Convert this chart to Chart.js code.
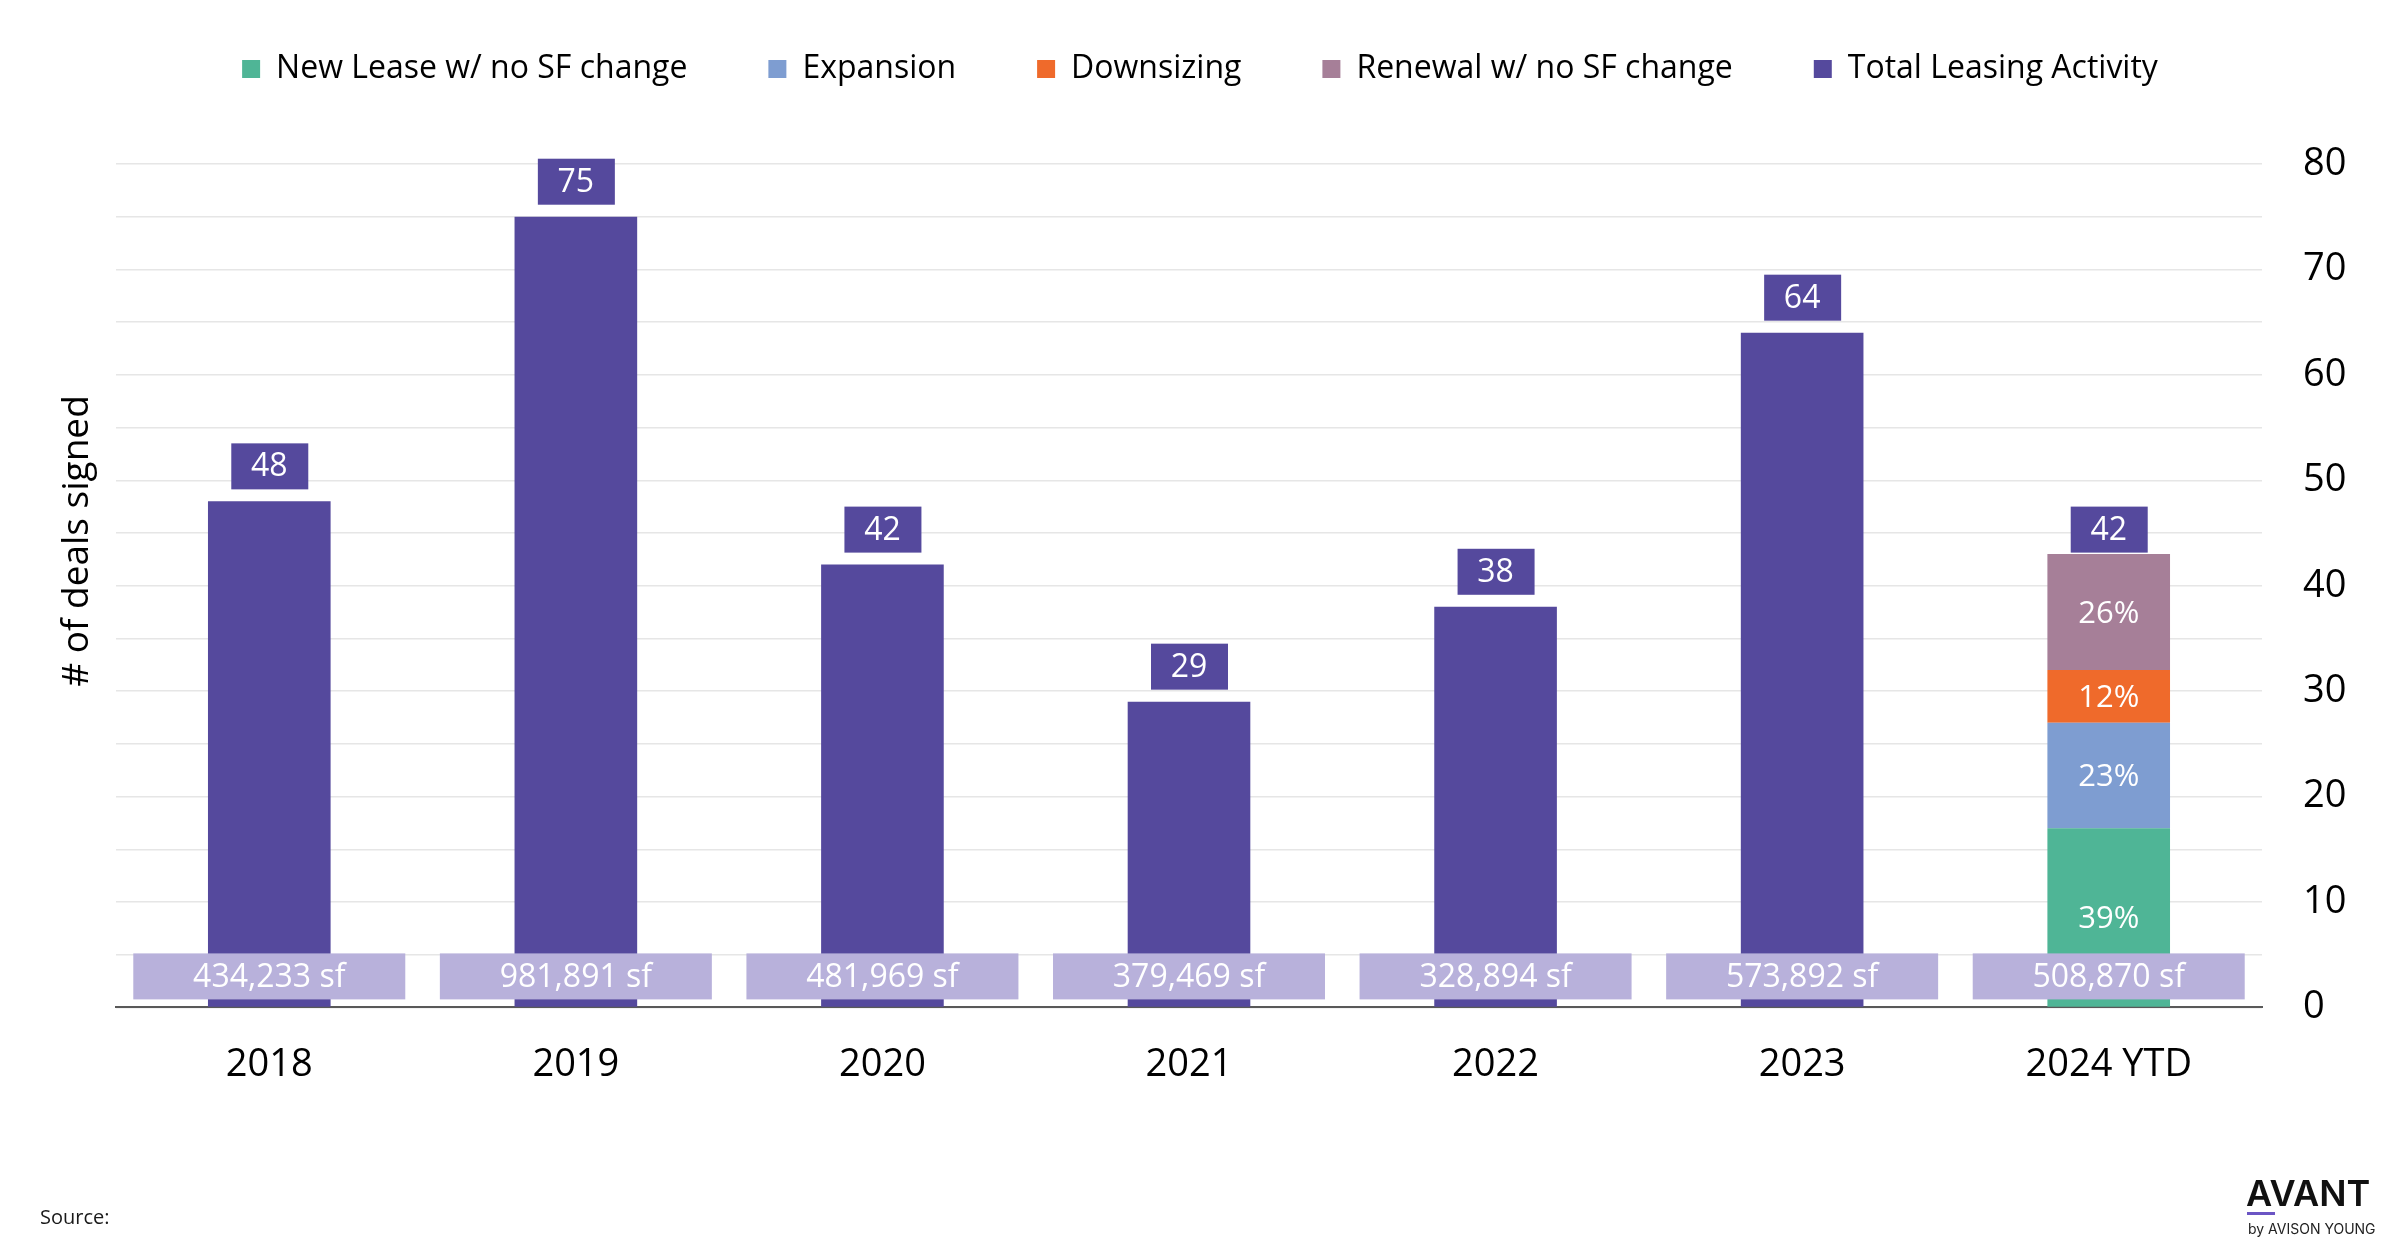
<!DOCTYPE html>
<html lang="en">
<head>
<meta charset="UTF-8">
<title>Leasing Activity by Year</title>
<script src="https://cdn.jsdelivr.net/npm/chart.js"></script>
<style>
  html, body { margin: 0; padding: 0; background: #fff; }
</style>
</head>
<body>
<canvas id="chart" width="2400" height="1260"></canvas>
<script>
// data
const years = ['2018', '2019', '2020', '2021', '2022', '2023', '2024 YTD'];
const totalDeals = [48, 75, 42, 29, 38, 64, null];
const newLease = [null, null, null, null, null, null, 17];
const expansion = [null, null, null, null, null, null, 10];
const downsizing = [null, null, null, null, null, null, 5];
const renewal = [null, null, null, null, null, null, 11];
const totalLabels = [48, 75, 42, 29, 38, 64, 42];
const sfLabels = ['434,233 sf', '981,891 sf', '481,969 sf', '379,469 sf', '328,894 sf', '573,892 sf', '508,870 sf'];
const pctLabels = ['39%', '23%', '12%', '26%'];

const FONT = '"Open Sans", "Noto Sans", sans-serif';
const purple = '#55499d';

// push the plot area down below the legend
const legendSpacer = {
    id: 'legendSpacer',
    beforeInit(chart) {
        const fit = chart.legend.fit;
        chart.legend.fit = function () {
            fit.bind(chart.legend)();
            this.height += 69;
        };
    }
};

const labelBoxes = {
    id: 'labelBoxes',
    afterDatasetsDraw(chart) {
        const ctx = chart.ctx;
        const xs = chart.scales.x, ys = chart.scales.y;
        ctx.save();
        ctx.textAlign = 'center';
        ctx.textBaseline = 'middle';

        // percentage labels in the stacked 2024 bar
        ctx.fillStyle = '#fff';
        ctx.font = '31px ' + FONT;
        for (let d = 0; d < 4; d++) {
            const el = chart.getDatasetMeta(d).data[6];
            ctx.fillText(pctLabels[d], el.x, (el.y + el.base) / 2 + 2);
        }

        // square footage boxes along the bottom
        const y0 = ys.getPixelForValue(0);
        years.forEach((y, i) => {
            const x = xs.getPixelForValue(i);
            ctx.fillStyle = '#b8b1db';
            ctx.fillRect(x - 136, y0 - 54, 272, 46);
            ctx.fillStyle = '#fff';
            ctx.font = '32px ' + FONT;
            ctx.fillText(sfLabels[i], x, y0 - 30);
        });

        // total deal boxes above each bar
        years.forEach((y, i) => {
            const x = xs.getPixelForValue(i);
            const top = ys.getPixelForValue(totalLabels[i]) - 12;
            ctx.fillStyle = purple;
            ctx.fillRect(x - 38, top - 46, 77, 46);
            ctx.fillStyle = '#fff';
            ctx.font = '32px ' + FONT;
            ctx.fillText(String(totalLabels[i]), x, top - 22);
        });
        ctx.restore();
    },
    afterDraw(chart) {
        const ctx = chart.ctx;
        ctx.save();
        // y axis title on the left
        ctx.translate(77, 541);
        ctx.rotate(-Math.PI / 2);
        ctx.textAlign = 'center';
        ctx.textBaseline = 'middle';
        ctx.fillStyle = '#000';
        ctx.font = '37px ' + FONT;
        ctx.fillText('# of deals signed', 0, 0);
        ctx.restore();

        ctx.save();
        ctx.textBaseline = 'middle';
        ctx.fillStyle = '#1a1a1a';
        ctx.font = '20px ' + FONT;
        ctx.fillText('Source:', 40, 1218);

        // logo
        ctx.fillStyle = '#111';
        ctx.font = '600 36px "Inter", ' + FONT;
        ctx.textBaseline = 'alphabetic';
        ctx.fillText('AVANT', 2246, 1206);
        ctx.fillStyle = '#6b55c4';
        ctx.fillRect(2247, 1212, 28, 3);
        ctx.fillStyle = '#222';
        ctx.font = '14px "Inter", ' + FONT;
        ctx.fillText('by AVISON YOUNG', 2248, 1234);
        ctx.restore();
    }
};

new Chart(document.getElementById('chart'), {
    type: 'bar',
    data: {
        labels: years,
        datasets: [
            { label: 'New Lease w/ no SF change', data: newLease, backgroundColor: '#4fb596' },
            { label: 'Expansion', data: expansion, backgroundColor: '#7e9dd1' },
            { label: 'Downsizing', data: downsizing, backgroundColor: '#ef6a2b' },
            { label: 'Renewal w/ no SF change', data: renewal, backgroundColor: '#a67f98' },
            { label: 'Total Leasing Activity', data: totalDeals, backgroundColor: purple }
        ]
    },
    options: {
        responsive: false,
        devicePixelRatio: 1,
        animation: false,
        datasets: {
            bar: { barPercentage: 0.4, categoryPercentage: 1, borderWidth: 0 }
        },
        layout: { padding: { top: -28, left: 0, right: 0, bottom: 145 } },
        plugins: {
            legend: {
                position: 'top',
                labels: {
                    boxWidth: 18,
                    boxHeight: 18,
                    padding: 81,
                    color: '#000',
                    font: { family: FONT, size: 32 }
                }
            },
            tooltip: { enabled: false }
        },
        scales: {
            x: {
                stacked: true,
                grid: { display: false },
                border: { display: true, color: '#595959', width: 2 },
                ticks: { color: '#000', padding: 27, font: { family: FONT, size: 38 } }
            },
            y: {
                stacked: true,
                position: 'right',
                min: 0,
                max: 80,
                afterFit(scale) { scale.width = 138; },
                grid: { color: '#e6e6e6', lineWidth: 1.5, drawTicks: false },
                border: { display: false },
                ticks: {
                    stepSize: 5,
                    padding: 41,
                    color: '#000',
                    font: { family: FONT, size: 38 },
                    callback: v => (v % 10 === 0 ? v : '')
                }
            },
            // empty left axis: reserves the margin for the title
            yLeft: {
                position: 'left',
                min: 0,
                max: 80,
                afterFit(scale) { scale.width = 116; },
                grid: { display: false },
                border: { display: false },
                ticks: { display: false }
            }
        }
    },
    plugins: [legendSpacer, labelBoxes]
});
</script>
</body>
</html>
